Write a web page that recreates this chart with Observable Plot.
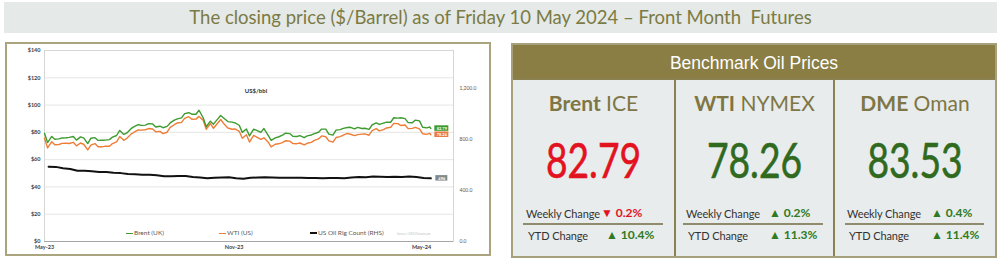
<!DOCTYPE html>
<html><head><meta charset="utf-8">
<script src="https://cdn.jsdelivr.net/npm/d3@7"></script>
<script src="https://cdn.jsdelivr.net/npm/@observablehq/plot@0.6"></script>
<style>
body{margin:0;width:1000px;height:261px;background:#fff;position:relative;overflow:hidden;font-family:Lato,"Open Sans",sans-serif}
#banner{position:absolute;left:4px;top:2px;width:993px;height:31px;background:#e5e9e8;color:#7b7b44;font-size:18.5px;line-height:31px;text-align:center;font-family:Lato,sans-serif}
#chartbox{position:absolute;left:5px;top:42px;width:482px;height:210px;border:2px solid #aaa57f;background:#fff}
#chartbox svg{position:absolute;left:0;top:0}
.leg{position:absolute;font-size:6.5px;color:#595959;white-space:nowrap;line-height:8px}
.sw{display:inline-block;width:7px;vertical-align:middle;margin-right:1px}
#bench{position:absolute;left:511px;top:43px;width:482px;height:211px;border:2px solid #a6a17c;background:#8b8150}
#bhead{position:absolute;left:0;top:0;width:482px;height:33px;background:#8a7e45;color:#fff;font-family:"Liberation Sans",Arial,sans-serif;font-size:17.5px;line-height:36px;text-align:center}
.col{position:absolute;top:35px;height:176px;background:#e8ecec}
.ctitle{position:absolute;left:0;width:100%;text-align:center;color:#7f7645;font-size:21px;line-height:24px}
.cnum{position:absolute;left:0;width:100%;text-align:center;font-family:Lato,sans-serif;font-size:49px;line-height:52px;transform:scaleX(0.76);transform-origin:50% 50%;-webkit-text-stroke:0.6px currentColor}
.rowl{position:absolute;font-size:11px;color:#333;line-height:14px;white-space:nowrap;letter-spacing:-0.1px}
.rowv{position:absolute;font-size:12px;font-weight:bold;line-height:14px;white-space:nowrap}
.sep{position:absolute;height:1.5px;background:#8e8c6c}
</style></head><body>
<div id="banner">The closing price ($/Barrel) as of Friday 10 May 2024 – Front Month&nbsp; Futures</div>
<div id="chartbox"></div>
<div id="bench"><div id="bhead">Benchmark Oil Prices</div></div>
<script>
// ---------- price chart data ----------
const weeks = ["2023-05-01","2023-05-08","2023-05-15","2023-05-22","2023-05-29","2023-06-05","2023-06-12","2023-06-19","2023-06-26","2023-07-03","2023-07-10","2023-07-17","2023-07-24","2023-07-31","2023-08-07","2023-08-14","2023-08-21","2023-08-28","2023-09-04","2023-09-11","2023-09-18","2023-09-25","2023-10-02","2023-10-09","2023-10-16","2023-10-23","2023-10-30","2023-11-06","2023-11-13","2023-11-20","2023-11-27","2023-12-04","2023-12-11","2023-12-18","2023-12-25","2024-01-01","2024-01-08","2024-01-15","2024-01-22","2024-01-29","2024-02-05","2024-02-12","2024-02-19","2024-02-26","2024-03-04","2024-03-11","2024-03-18","2024-03-25","2024-04-01","2024-04-08","2024-04-15","2024-04-22","2024-04-29","2024-05-06"];
const brentMon = [79.3,77.0,75.2,76.0,77.0,76.7,71.8,76.1,74.2,74.7,77.7,78.5,82.7,85.6,85.3,86.2,84.5,84.4,89.0,90.6,94.4,93.3,90.7,88.2,89.7,89.8,87.5,85.2,82.5,82.3,80.0,78.0,76.0,78.0,79.1,77.0,76.1,78.1,80.1,82.4,78.0,82.0,83.6,82.5,82.8,82.2,86.9,86.8,87.4,90.4,90.1,87.0,88.4,83.3];
const brentThu = [72.5,74.9,75.9,76.3,74.3,76.0,75.7,74.1,74.3,76.5,81.4,79.6,84.2,85.1,86.4,83.9,83.4,86.9,89.9,93.7,93.3,96.2,84.1,86.0,92.4,87.9,86.9,80.0,77.4,81.4,82.8,74.1,76.6,79.4,77.2,77.6,77.4,79.1,82.4,78.7,81.6,82.9,83.7,83.6,83.0,85.4,85.8,87.5,90.7,90.7,87.1,89.0,83.7,83.9];
const wtiMon = [75.7,73.2,71.1,72.0,72.7,72.2,67.1,71.8,69.4,69.8,73.0,74.2,78.7,81.8,81.9,82.5,80.7,80.1,85.6,87.3,91.5,89.7,88.8,86.4,86.7,85.5,82.3,80.8,78.3,77.8,74.9,73.0,71.3,72.5,73.6,71.7,70.8,72.7,75.2,76.8,72.8,76.9,79.2,77.6,78.7,77.9,82.7,82.0,83.7,86.4,85.4,82.9,82.6,78.5];
const wtiThu = [68.6,70.9,71.9,71.8,70.1,71.3,70.6,69.5,69.9,71.8,76.9,75.6,80.1,81.6,82.8,80.4,79.1,83.6,86.9,90.2,89.6,91.7,82.3,83.0,89.4,83.2,82.5,75.7,72.9,76.5,76.0,69.3,71.6,73.9,71.8,72.2,72.0,74.1,77.4,73.8,76.2,78.0,78.6,78.3,78.9,81.3,81.1,83.2,86.6,85.0,82.7,83.6,79.0,79.3];
const rigCount = [588,586,575,570,555,556,552,546,545,540,537,530,529,525,525,520,512,513,515,515,507,502,497,501,502,504,496,493,500,503,505,503,501,500,501,501,499,499,497,499,499,497,503,506,504,510,509,506,508,506,511,506,499,496];
const lastDate = "2024-05-10";
const brentLast = 82.79;
const wtiLast = 78.26;
const leftTicks = [0,20,40,60,80,100,120,140];
const rightTicks = [0,400,800,1200];
const xTicks = ["2023-05-01","2023-11-01","2024-05-01"];
const xTickLabels = ["May-23","Nov-23","May-24"];
const seriesNames = ["Brent (UK)","WTI (US)","US Oil Rig Count (RHS)"];

// ---------- benchmark panel data ----------
const benchBold = ["Brent","WTI","DME"];
const benchRest = ["ICE","NYMEX","Oman"];
const benchPrice = ["82.79","78.26","83.53"];
const weeklyChange = [-0.2,0.2,0.4];
const ytdChange = [10.4,11.3,11.4];

// ---------- build tables ----------
const day = d => new Date(d + "T00:00:00Z");
const prices = [];
weeks.forEach((w, i) => {
  prices.push({date: day(w), brent: brentMon[i], wti: wtiMon[i]});
  prices.push({date: d3.utcDay.offset(day(w), 3), brent: brentThu[i], wti: wtiThu[i]});
});
prices.push({date: day(lastDate), brent: brentLast, wti: wtiLast});
const rigs = weeks.map((w, i) => ({date: d3.utcDay.offset(day(w), 4), rig: rigCount[i]}));
const k = 140 / 1500;
const last = prices[prices.length - 1];
const lastRig = rigs[rigs.length - 1];

// text label drawn on a small filled box (box sized from the label's text)
function boxLabel(data, options, fillColor) {
  const DX = 11;
  return Plot.text(data, {
    ...options, dx: DX, fill: "white", fontSize: 4, fontWeight: "bold",
    render(index, scales, values, dims, ctx, next) {
      const g = next(index, scales, values, dims, ctx);
      const ns = "http://www.w3.org/2000/svg";
      const grp = document.createElementNS(ns, "g");
      for (const i of index) {
        const r = document.createElementNS(ns, "rect");
        const t = String(values.text ? values.text[i] : "");
        const w = Math.max(12, t.length * 2.3 + 2.5), h = 5.5;
        r.setAttribute("x", values.x[i] + DX - w / 2);
        r.setAttribute("y", values.y[i] - h / 2);
        r.setAttribute("width", w);
        r.setAttribute("height", h);
        r.setAttribute("fill", fillColor);
        grp.appendChild(r);
      }
      grp.appendChild(g);
      return grp;
    }
  });
}

const GREEN = "#3d9b2f", ORANGE = "#ee7d35";
const chart = Plot.plot({
  width: 482, height: 210,
  marginLeft: 37, marginRight: 36, marginTop: 6, marginBottom: 13,
  style: {fontFamily: "Lato, sans-serif", background: "transparent", overflow: "visible"},
  x: {type: "utc", domain: [day("2023-05-01"), day("2024-06-01")], axis: null},
  y: {domain: [0, 140], axis: null},
  marks: [
    Plot.gridY(leftTicks, {stroke: "#e6e6e6", strokeOpacity: 1}),
    Plot.frame({stroke: "#d6d6d6"}),
    Plot.axisY(leftTicks, {anchor: "left", tickSize: 0, tickPadding: 4, tickFormat: d => "$" + d, fontSize: 5.5, fontWeight: "bold", fill: "#404040"}),
    Plot.axisY(rightTicks.map(v => v * k), {anchor: "right", tickSize: 0, tickPadding: 6, textAnchor: "start", tickFormat: d => d3.format(",.1f")(Math.round(d / k)), fontSize: 5, fill: "#595959"}),
    Plot.axisX(xTicks.map(day), {anchor: "bottom", tickSize: 0, tickPadding: 4, tickFormat: (d, i) => xTickLabels[i], fontSize: 5.5, fontWeight: "bold", fill: "#404040"}),
    Plot.ruleY([0], {stroke: "#a6a6a6"}),
    Plot.line(rigs, {x: "date", y: d => d.rig * k, stroke: "#111", strokeWidth: 2}),
    Plot.line(prices, {x: "date", y: "wti", stroke: ORANGE, strokeWidth: 1.4}),
    Plot.line(prices, {x: "date", y: "brent", stroke: GREEN, strokeWidth: 1.4}),
    boxLabel([last], {x: "date", y: "brent", text: d => d.brent.toFixed(2)}, "#3a9a2c"),
    boxLabel([last], {x: "date", y: "wti", text: d => d.wti.toFixed(2)}, "#ea7a40"),
    boxLabel([lastRig], {x: () => day(lastDate), y: d => d.rig * k, text: d => String(d.rig)}, "#7f8a8c"),
    Plot.text(["US$/bbl"], {frameAnchor: "top", dx: 7, dy: 38, fontSize: 6, fontWeight: "bold", fill: "#333"})
  ]
});
const box = document.getElementById("chartbox");
box.appendChild(chart);

// legend inside plot
const legColors = [GREEN, ORANGE, "#111"];
const legWidths = [1.3, 1.3, 2];
const legLeft = [119, 212, 303];
seriesNames.forEach((n, i) => {
  const el = document.createElement("div");
  el.className = "leg";
  el.style.left = legLeft[i] + "px";
  el.style.top = "185px";
  el.innerHTML = `<span class="sw" style="height:${legWidths[i]}px;background:${legColors[i]}"></span>${n}`;
  box.appendChild(el);
});
const src = document.createElement("div");
src.className = "leg";
src.style.cssText = "left:390px;top:186px;font-size:3px;color:#c4c4c4";
src.textContent = "Source: LSEG Datastream";
box.appendChild(src);

// benchmark panel
const bench = document.getElementById("bench");
const colLeft = [0, 163, 322], colWidth = [161, 157, 160];
const wkLabelX = [13, 10, 12], wkValX = [88, 93, 96], ytdLabelX = [15, 12, 14], ytdValX = [93, 93, 96];
const sepX = [10, 7, 10], sepW = [140, 140, 139];
benchBold.forEach((b, i) => {
  const c = document.createElement("div");
  c.className = "col";
  c.style.left = colLeft[i] + "px";
  c.style.width = colWidth[i] + "px";
  const up = weeklyChange[i] >= 0;
  const chg = v => (v >= 0 ? "▲ " : "▼ ") + Math.abs(v).toFixed(1) + "%";
  c.innerHTML =
    `<div class="ctitle" style="top:11px"><b>${b}</b> ${benchRest[i]}</div>` +
    `<div class="cnum" style="top:53px;color:${up ? "#2f6a1f" : "#e3121f"}">${benchPrice[i]}</div>` +
    `<div class="rowl" style="left:${wkLabelX[i]}px;top:127px">Weekly Change</div>` +
    `<div class="rowv" style="left:${wkValX[i]}px;top:126px;color:${up ? "#2f7a22" : "#e3121f"}">${chg(weeklyChange[i])}</div>` +
    `<div class="sep" style="left:${sepX[i]}px;top:143px;width:${sepW[i]}px"></div>` +
    `<div class="rowl" style="left:${ytdLabelX[i]}px;top:149px">YTD Change</div>` +
    `<div class="rowv" style="left:${ytdValX[i]}px;top:148px;color:${ytdChange[i] >= 0 ? "#2f7a22" : "#e3121f"}">${chg(ytdChange[i])}</div>`;
  bench.appendChild(c);
});
</script>
</body></html>
